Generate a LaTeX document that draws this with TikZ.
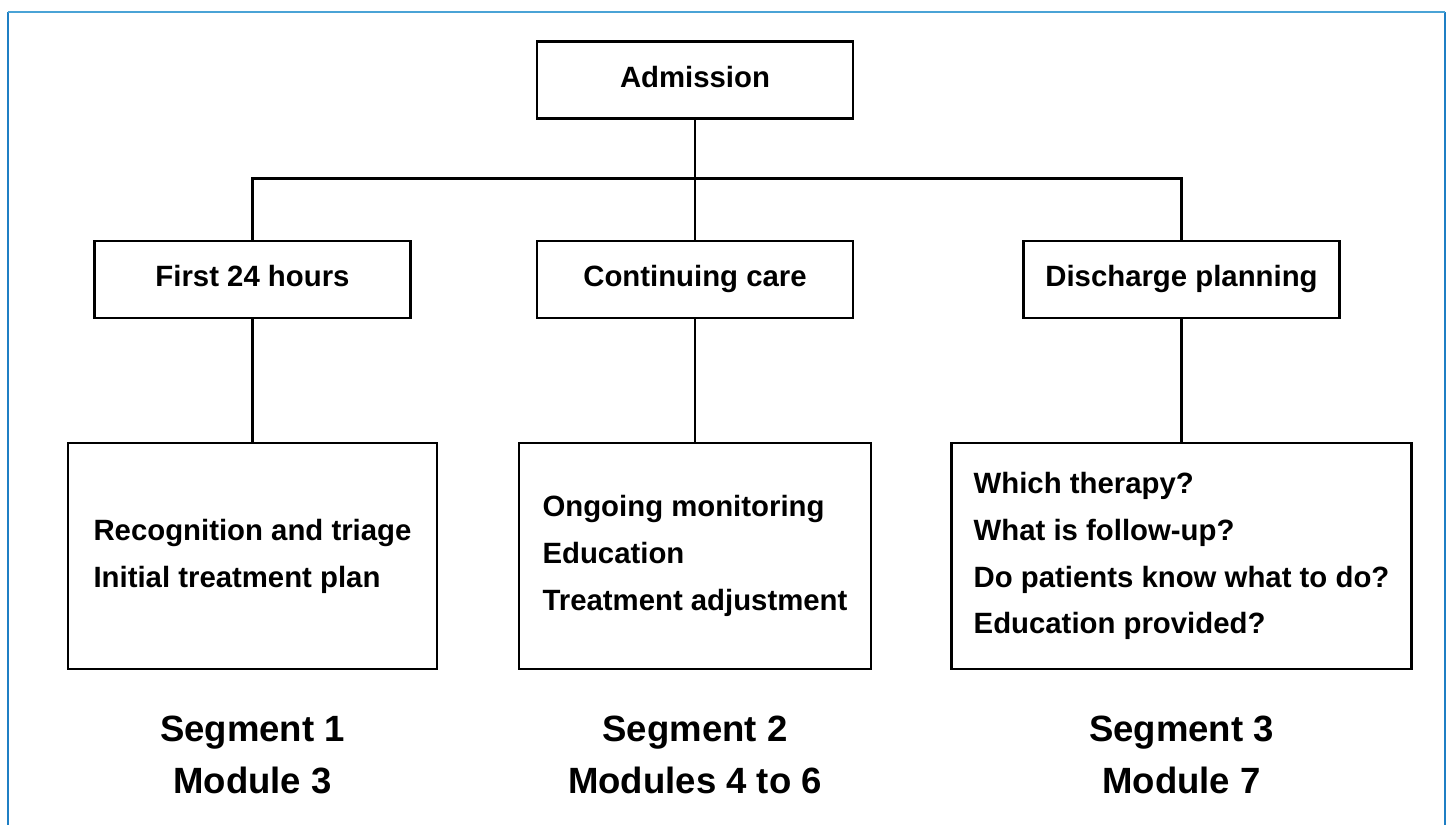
\documentclass[tikz,border=0pt]{standalone}
\usepackage{fontspec}
\setmainfont{Liberation Sans}
\definecolor{framecol}{RGB}{74,163,214}
\definecolor{framedark}{RGB}{31,127,196}
\begin{document}
\begin{tikzpicture}[x=0.02cm,y=-0.02cm,
  box/.style={draw,line width=1.6pt,minimum width=6.32cm,minimum height=1.54cm,
    text height=12pt,text depth=3.5pt,font=\fontsize{16.7}{20}\selectfont\bfseries},
  listbox/.style={draw,line width=1.6pt,minimum height=4.52cm,align=left,
    font=\fontsize{16.7}{26.7}\selectfont\bfseries},
  seglabel/.style={align=center,font=\fontsize{20.8}{29.6}\selectfont\bfseries},
  link/.style={line width=1.6pt}]
\useasboundingbox (0,0) rectangle (1448,825);
% frame
\draw[framedark,line width=1.2pt] (8,825) -- (8,12);
\draw[framedark,line width=1.2pt] (1445,12) -- (1445,825);
\draw[framecol,line width=1.6pt] (8,12) -- (1445,12);
% top row
\node[box](adm) at (695,80){Admission};
\node[box](first) at (252.5,279.5){First 24 hours};
\node[box](cont) at (695,279.5){Continuing care};
\node[box](disch) at (1181.5,279.5){Discharge planning};
% lists
\node[listbox,minimum width=7.38cm](list1) at (252.5,556){Recognition and triage\\Initial treatment plan};
\node[listbox,minimum width=7.04cm](list2) at (695,556){Ongoing monitoring\\Education\\Treatment adjustment};
\node[listbox,minimum width=9.2cm](list3) at (1181.5,556){Which therapy?\\What is follow-up?\\Do patients know what to do?\\Education provided?};
% segments
\node[seglabel](seg1) at (252.5,755){Segment 1\\Module 3};
\node[seglabel](seg2) at (695,755){Segment 2\\Modules 4 to 6};
\node[seglabel](seg3) at (1181.5,755){Segment 3\\Module 7};
% connectors
\draw[link] (adm) -- (cont);
\draw[link] (first.north) -- ++(0,-61) -| (disch.north);
\draw[link] (first) -- (list1);
\draw[link] (cont) -- (list2);
\draw[link] (disch) -- (list3);
\end{tikzpicture}
\end{document}
